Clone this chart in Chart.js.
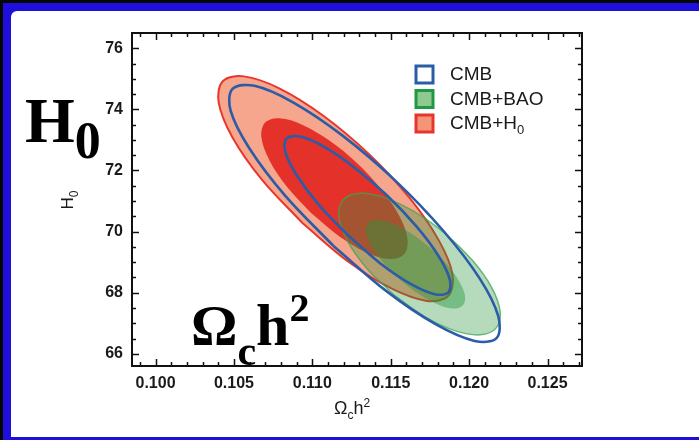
<!DOCTYPE html>
<html>
<head>
<meta charset="utf-8">
<script src="https://cdn.jsdelivr.net/npm/chart.js@4.4.1/dist/chart.umd.min.js"></script>
<style>
  html, body { margin: 0; padding: 0; }
  body { width: 699px; height: 440px; position: relative; overflow: hidden; background: #050505; }
  #blue { position: absolute; left: 3px; top: 3px; right: 0; bottom: 0; background: #1f0fdc; }
  #white { position: absolute; left: 11px; top: 11px; right: 0; bottom: 3px; background: #fff; border-top-left-radius: 6px; }
  canvas { position: absolute; left: 0; top: 0; }
</style>
</head>
<body>
<div id="blue"></div>
<div id="white"></div>
<canvas id="chart" width="699" height="440"></canvas>
<script>
// H0 vs Omega_c h^2, 68% and 95% contours
const xTickValues = [0.100, 0.105, 0.110, 0.115, 0.120, 0.125];
const yTickValues = [66, 68, 70, 72, 74, 76];
const legendLabels = ["CMB", "CMB+BAO", "CMB+H"]; // last one gets a subscript 0

// contour outlines, each loop ends on its first point
const h0OuterX = [0.10937, 0.10677, 0.10490, 0.10403, 0.10429, 0.10564, 0.10789, 0.11068, 0.11360, 0.11619, 0.11806, 0.11894, 0.11867, 0.11732, 0.11507, 0.11228, 0.10937];
const h0OuterY = [70.28, 71.71, 73.09, 74.22, 74.92, 75.08, 74.69, 73.80, 72.54, 71.11, 69.72, 68.60, 67.90, 67.73, 68.13, 69.02, 70.28];
const h0InnerX = [0.10992, 0.10834, 0.10723, 0.10675, 0.10699, 0.10790, 0.10935, 0.11111, 0.11291, 0.11449, 0.11561, 0.11608, 0.11584, 0.11493, 0.11349, 0.11173, 0.10992];
const h0InnerY = [70.61, 71.49, 72.37, 73.10, 73.57, 73.71, 73.50, 72.97, 72.21, 71.32, 70.45, 69.72, 69.25, 69.10, 69.31, 69.84, 70.61];

const baoOuterX = [0.11520, 0.11345, 0.11222, 0.11170, 0.11195, 0.11295, 0.11454, 0.11648, 0.11848, 0.12022, 0.12145, 0.12198, 0.12172, 0.12072, 0.11913, 0.11719, 0.11520];
const baoOuterY = [67.93, 68.81, 69.71, 70.49, 71.03, 71.25, 71.12, 70.66, 69.93, 69.05, 68.16, 67.38, 66.84, 66.62, 66.75, 67.21, 67.93];
const baoInnerX = [0.11566, 0.11457, 0.11379, 0.11343, 0.11355, 0.11413, 0.11509, 0.11627, 0.11750, 0.11859, 0.11938, 0.11974, 0.11961, 0.11903, 0.11808, 0.11689, 0.11566];
const baoInnerY = [68.39, 68.95, 69.50, 69.97, 70.28, 70.38, 70.27, 69.95, 69.47, 68.92, 68.36, 67.90, 67.59, 67.48, 67.60, 67.92, 68.39];

const cmbOuterX = [0.11135, 0.10828, 0.10598, 0.10479, 0.10491, 0.10631, 0.10877, 0.11193, 0.11531, 0.11838, 0.12068, 0.12186, 0.12175, 0.12035, 0.11789, 0.11473, 0.11135];
const cmbOuterY = [69.53, 71.17, 72.73, 73.96, 74.67, 74.77, 74.23, 73.14, 71.66, 70.01, 68.46, 67.23, 66.51, 66.42, 66.96, 68.05, 69.53];
const cmbInnerX = [0.11229, 0.11040, 0.10900, 0.10828, 0.10836, 0.10922, 0.11074, 0.11268, 0.11475, 0.11664, 0.11804, 0.11876, 0.11868, 0.11782, 0.11630, 0.11436, 0.11229];
const cmbInnerY = [69.87, 70.88, 71.85, 72.61, 73.05, 73.11, 72.78, 72.10, 71.19, 70.17, 69.21, 68.45, 68.01, 67.95, 68.28, 68.95, 69.87];

const pts = (xs, ys) => xs.map((x, i) => ({ x, y: ys[i] }));

const BLUE = "#2b5ca8";
const sans = '"Liberation Sans", Arial, sans-serif';
const serif = '"Liberation Serif", "Times New Roman", serif';

// draws text pieces one after another: [text, size, dy]
function richWidth(ctx, parts, family, weight) {
  let w = 0;
  for (const [t, size] of parts) {
    ctx.font = `${weight} ${size}px ${family}`;
    w += ctx.measureText(t).width;
  }
  return w;
}
function richText(ctx, parts, x, y, family, weight) {
  let cx = x;
  for (const [t, size, dy] of parts) {
    ctx.font = `${weight} ${size}px ${family}`;
    ctx.fillText(t, cx, y + dy);
    cx += ctx.measureText(t).width;
  }
}

const decor = {
  id: "decor",
  afterDraw(chart) {
    const { ctx, chartArea: a, scales: { x, y } } = chart;
    ctx.save();

    // ticks pointing inward on all four sides
    ctx.strokeStyle = "#111";
    ctx.lineWidth = 1.5;
    ctx.beginPath();
    for (let k = 99; k <= 127; k++) {
      const px = Math.round(x.getPixelForValue(k / 1000)) + 0.5;
      const len = k % 5 === 0 ? 7 : 4;
      ctx.moveTo(px, a.bottom); ctx.lineTo(px, a.bottom - len);
      ctx.moveTo(px, a.top); ctx.lineTo(px, a.top + len);
    }
    for (let k = 132; k <= 152; k++) {
      const py = Math.round(y.getPixelForValue(k / 2)) + 0.5;
      const len = k % 4 === 0 ? 7 : 4;
      ctx.moveTo(a.left, py); ctx.lineTo(a.left + len, py);
      ctx.moveTo(a.right, py); ctx.lineTo(a.right - len, py);
    }
    ctx.stroke();

    ctx.lineWidth = 2;
    ctx.strokeRect(a.left, a.top, a.right - a.left, a.bottom - a.top);

    // legend
    const boxes = [
      { fill: "#ffffff", stroke: BLUE },
      { fill: "#8dc991", stroke: "#1e9a45" },
      { fill: "#f4957a", stroke: "#e8352b" }
    ];
    ctx.textBaseline = "middle";
    legendLabels.forEach((label, i) => {
      const cy = 74 + i * 24.5;
      ctx.fillStyle = boxes[i].fill;
      ctx.fillRect(416, cy - 8, 17, 17);
      ctx.strokeStyle = boxes[i].stroke;
      ctx.lineWidth = 3;
      ctx.strokeRect(416, cy - 8, 17, 17);
      ctx.fillStyle = "#1a1a1a";
      const parts = [[label, 19, 0]];
      if (i === 2) parts.push(["0", 13, 6]);
      richText(ctx, parts, 450, cy + 1, sans, "normal");
    });

    // axis titles
    ctx.textBaseline = "alphabetic";
    ctx.fillStyle = "#1a1a1a";
    const xt = [["\u03a9", 18, 0], ["c", 12, 5], ["h", 18, 0], ["2", 12, -7]];
    const xw = richWidth(ctx, xt, sans, "normal");
    richText(ctx, xt, 352 - xw / 2, 414, sans, "normal");

    ctx.save();
    ctx.translate(73, 200);
    ctx.rotate(-Math.PI / 2);
    const yt = [["H", 17, 0], ["0", 12, 5]];
    const yw = richWidth(ctx, yt, sans, "normal");
    richText(ctx, yt, -yw / 2, 0, sans, "normal");
    ctx.restore();

    // big overlay labels
    ctx.fillStyle = "#000";
    richText(ctx, [["H", 64, 0], ["0", 52, 16]], 25, 142, serif, "bold");
    richText(ctx, [["\u03a9", 58, 0], ["c", 42, 20], ["h", 60, 0], ["2", 40, -24]], 191, 345, serif, "bold");

    ctx.restore();
  }
};

const lineBase = { showLine: true, pointRadius: 0, tension: 0.35 };

new Chart(document.getElementById("chart"), {
  type: "scatter",
  data: {
    datasets: [
      { ...lineBase, label: "CMB 68%", data: pts(cmbInnerX, cmbInnerY), borderColor: BLUE, borderWidth: 2.6, fill: false, order: 0 },
      { ...lineBase, label: "CMB 95%", data: pts(cmbOuterX, cmbOuterY), borderColor: BLUE, borderWidth: 2.6, fill: false, order: 1 },
      { ...lineBase, label: "CMB+BAO 68%", data: pts(baoInnerX, baoInnerY), backgroundColor: "rgba(40,150,60,0.45)", borderWidth: 0, fill: "shape", order: 2 },
      { ...lineBase, label: "CMB+BAO 95%", data: pts(baoOuterX, baoOuterY), backgroundColor: "rgba(40,150,60,0.34)", borderColor: "rgba(60,165,80,0.75)", borderWidth: 1.5, fill: "shape", order: 3 },
      { ...lineBase, label: "CMB+H0 68%", data: pts(h0InnerX, h0InnerY), backgroundColor: "#e4322b", borderWidth: 0, fill: "shape", order: 4 },
      { ...lineBase, label: "CMB+H0 95%", data: pts(h0OuterX, h0OuterY), backgroundColor: "#f6a68c", borderColor: "#e8362c", borderWidth: 2, fill: "shape", order: 5 }
    ]
  },
  options: {
    responsive: false,
    animation: false,
    events: [],
    layout: { padding: { left: 82, top: 33, right: 117, bottom: 44 } },
    plugins: { legend: { display: false }, tooltip: { enabled: false } },
    scales: {
      x: {
        type: "linear", min: 0.0985, max: 0.1272,
        grid: { display: false, drawTicks: false }, border: { display: false },
        afterBuildTicks: s => { s.ticks = xTickValues.map(v => ({ value: v })); },
        afterFit: s => { s.height = 30; },
        ticks: { padding: 8, color: "#1a1a1a", autoSkip: false, maxRotation: 0, font: { family: sans, size: 16, weight: "bold" }, callback: v => v.toFixed(3) }
      },
      y: {
        type: "linear", min: 65.6, max: 76.5,
        grid: { display: false, drawTicks: false }, border: { display: false },
        afterBuildTicks: s => { s.ticks = yTickValues.map(v => ({ value: v })); },
        afterFit: s => { s.width = 50; },
        ticks: { padding: 9, color: "#1a1a1a", autoSkip: false, font: { family: sans, size: 16, weight: "bold" }, callback: v => String(v) }
      }
    }
  },
  plugins: [decor]
});
</script>
</body>
</html>
